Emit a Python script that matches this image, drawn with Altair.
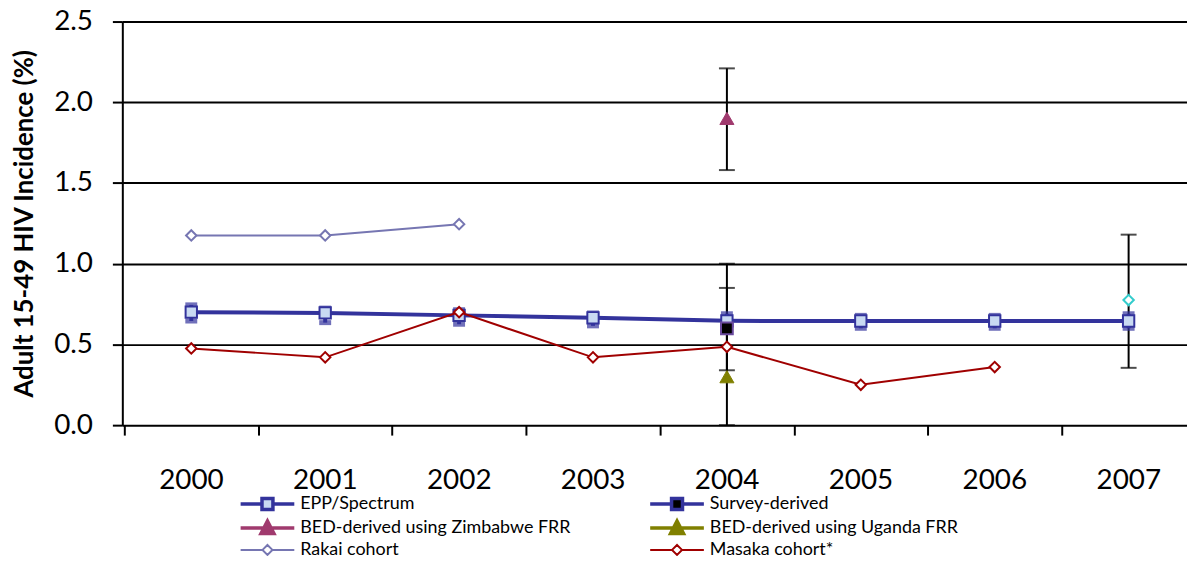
import altair as alt
import pandas as pd

FONT = "Lato"

# ---------------- data ----------------
years = [2000, 2001, 2002, 2003, 2004, 2005, 2006, 2007]
epp_vals = [0.70, 0.695, 0.68, 0.665, 0.646, 0.645, 0.645, 0.645]
epp_lo = [0.645, 0.635, 0.625, 0.615, 0.605, 0.600, 0.600, 0.600]
epp_hi = [0.745, 0.725, 0.715, 0.695, 0.690, 0.680, 0.680, 0.690]

survey_year = [2004]
survey_vals = [0.60]
survey_lo = [0.34]
survey_hi = [0.85]

bed_zim_year = [2004]
bed_zim_vals = [1.90]
bed_zim_lo = [1.58]
bed_zim_hi = [2.21]

bed_uga_year = [2004]
bed_uga_vals = [0.30]
bed_uga_lo = [0.0]
bed_uga_hi = [1.0]

rakai_years = [2000, 2001, 2002]
rakai_vals = [1.175, 1.175, 1.245]

masaka_years = [2000, 2001, 2002, 2003, 2004, 2005, 2006]
masaka_vals = [0.475, 0.42, 0.70, 0.42, 0.485, 0.25, 0.36]

other_year = [2007]
other_vals = [0.775]
other_lo = [0.355]
other_hi = [1.18]

series_names = [
    "EPP/Spectrum",
    "Survey-derived",
    "BED-derived using Zimbabwe FRR",
    "BED-derived using Uganda FRR",
    "Rakai cohort",
    "Masaka cohort*",
]

tick_positions = [1999.5, 2000.5, 2001.5, 2002.5, 2003.5, 2004.5, 2005.5, 2006.5]
y_ticks = [0.0, 0.5, 1.0, 1.5, 2.0, 2.5]

# colours
C_EPP = "#33339c"
C_EPP_FILL = "#c9daf2"
C_SURV_STROKE = "#6a4a9e"
C_ZIM = "#a03a6e"
C_UGA = "#808000"
C_RAKAI = "#7676b2"
C_MASAKA = "#a00000"
C_OTHER = "#33cccc"

# ---------------- frames ----------------
epp_df = pd.DataFrame({"year": years, "val": epp_vals, "lo": epp_lo, "hi": epp_hi})
rakai_df = pd.DataFrame({"year": rakai_years, "val": rakai_vals})
masaka_df = pd.DataFrame({"year": masaka_years, "val": masaka_vals})
survey_df = pd.DataFrame({"year": survey_year, "val": survey_vals})
zim_df = pd.DataFrame({"year": bed_zim_year, "val": bed_zim_vals})
uga_df = pd.DataFrame({"year": bed_uga_year, "val": bed_uga_vals})
other_df = pd.DataFrame({"year": other_year, "val": other_vals})
err_df = pd.DataFrame({
    "year": survey_year + bed_zim_year + bed_uga_year + other_year,
    "lo": survey_lo + bed_zim_lo + bed_uga_lo + other_lo,
    "hi": survey_hi + bed_zim_hi + bed_uga_hi + other_hi,
})
legend_df = pd.DataFrame({"series": series_names, "year": [2000] * 6, "val": [-1.0] * 6})

# ---------------- encodings ----------------
x_scale = alt.Scale(domain=[1999.485, 2007.436], nice=False, zero=False)
y_scale = alt.Scale(domain=[0, 2.5], nice=False)

x_axis = alt.Axis(
    values=tick_positions,
    labelExpr="format(datum.value + 0.5, 'd')",
    labelOffset=67,
    labelFont=FONT, labelFontSize=28, labelColor="black",
    labelPadding=32, labelFlush=False, labelOverlap=False, labelBound=False,
    tickSize=10, tickWidth=2, tickColor="black",
    domain=False, grid=False, title=None,
)
y_axis = alt.Axis(
    values=y_ticks, format=".1f",
    labelFont=FONT, labelFontSize=28, labelColor="black", labelPadding=20,
    tickSize=10, tickWidth=2, tickColor="black",
    domain=True, domainColor="black", domainWidth=2,
    grid=True, gridColor="black", gridWidth=2,
    title="Adult 15-49 HIV Incidence (%)",
    titleFont=FONT, titleFontSize=26, titleFontWeight="bold", titleColor="black",
    titlePadding=16,
)

X = alt.X("year:Q", scale=x_scale, axis=x_axis)
Y = alt.Y("val:Q", scale=y_scale, axis=y_axis)

# black error bars
err_rule = alt.Chart(err_df).mark_rule(color="black", strokeWidth=2).encode(
    x=X, y=alt.Y("lo:Q", scale=y_scale, axis=y_axis), y2="hi:Q"
)
err_cap_lo = alt.Chart(err_df).mark_tick(color="black", orient="horizontal", size=16, thickness=2).encode(
    x=X, y=alt.Y("lo:Q", scale=y_scale, axis=y_axis)
)
err_cap_hi = alt.Chart(err_df).mark_tick(color="black", orient="horizontal", size=16, thickness=2).encode(
    x=X, y=alt.Y("hi:Q", scale=y_scale, axis=y_axis)
)

# EPP / Spectrum
epp_line = alt.Chart(epp_df).mark_line(color=C_EPP, strokeWidth=4).encode(x=X, y=Y)
epp_bar = alt.Chart(epp_df).mark_rule(color=C_EPP, strokeWidth=4).encode(
    x=X, y=alt.Y("lo:Q", scale=y_scale, axis=y_axis), y2="hi:Q"
)
epp_cap_lo = alt.Chart(epp_df).mark_tick(color=C_EPP, orient="horizontal", size=12, thickness=5).encode(
    x=X, y=alt.Y("lo:Q", scale=y_scale, axis=y_axis)
)
epp_cap_hi = alt.Chart(epp_df).mark_tick(color=C_EPP, orient="horizontal", size=12, thickness=5).encode(
    x=X, y=alt.Y("hi:Q", scale=y_scale, axis=y_axis)
)
epp_pts = alt.Chart(epp_df).mark_point(
    shape="square", size=130, filled=True, fill=C_EPP_FILL, stroke=C_EPP, strokeWidth=2, opacity=1
).encode(x=X, y=Y)

# Rakai
rakai_line = alt.Chart(rakai_df).mark_line(color=C_RAKAI, strokeWidth=2).encode(x=X, y=Y)
rakai_pts = alt.Chart(rakai_df).mark_point(
    shape="diamond", size=110, filled=True, fill="white", stroke=C_RAKAI, strokeWidth=2, opacity=1
).encode(x=X, y=Y)

# Masaka
masaka_line = alt.Chart(masaka_df).mark_line(color=C_MASAKA, strokeWidth=2).encode(x=X, y=Y)
masaka_pts = alt.Chart(masaka_df).mark_point(
    shape="diamond", size=110, filled=True, fill="white", stroke=C_MASAKA, strokeWidth=2, opacity=1
).encode(x=X, y=Y)

# BED points
zim_pts = alt.Chart(zim_df).mark_point(
    shape="triangle-up", size=200, filled=True, fill=C_ZIM, stroke=C_ZIM, strokeWidth=1, opacity=1
).encode(x=X, y=Y)
uga_pts = alt.Chart(uga_df).mark_point(
    shape="triangle-up", size=200, filled=True, fill=C_UGA, stroke=C_UGA, strokeWidth=1, opacity=1
).encode(x=X, y=Y)

# Survey-derived
survey_pts = alt.Chart(survey_df).mark_point(
    shape="square", size=140, filled=True, fill="black", stroke=C_SURV_STROKE, strokeWidth=2, opacity=1
).encode(x=X, y=Y)

# other cohort point (2007)
other_pts = alt.Chart(other_df).mark_point(
    shape="diamond", size=110, filled=True, fill="white", stroke=C_OTHER, strokeWidth=2, opacity=1
).encode(x=X, y=Y)

# legend-only layer (points lie outside the y domain and are clipped)
sq = "M-1,0L3.3,0M5.5,0L9.8,0M3.3,-1.1L5.5,-1.1L5.5,1.1L3.3,1.1Z"
tri = "M-1,0L9.8,0M4.4,-1.4L5.7,1.1L3.1,1.1Z"
dia = "M-1,0L3.4,0M5.4,0L9.8,0M4.4,-1L5.4,0L4.4,1L3.4,0Z"

legend = alt.Legend(
    orient="none", legendX=115, legendY=476, columns=2, direction="horizontal", title=None,
    symbolSize=100, symbolStrokeWidth=3, symbolOpacity=1,
    labelFont=FONT, labelFontSize=18, labelColor="black", labelOffset=46,
    labelLimit=400, rowPadding=-2.5, columnPadding=72,
)
legend_layer = alt.Chart(legend_df).mark_point(filled=True, opacity=1, clip=True).encode(
    x=X, y=Y,
    shape=alt.Shape("series:N", scale=alt.Scale(domain=series_names, range=[sq, sq, tri, tri, dia, dia]), legend=legend),
    fill=alt.Fill("series:N", scale=alt.Scale(domain=series_names, range=[C_EPP_FILL, "black", C_ZIM, C_UGA, "white", "white"]), legend=legend),
    stroke=alt.Stroke("series:N", scale=alt.Scale(domain=series_names, range=[C_EPP, C_EPP, C_ZIM, C_UGA, C_RAKAI, C_MASAKA]), legend=legend),
    strokeWidth=alt.StrokeWidth("series:N", scale=alt.Scale(type="ordinal", domain=series_names, range=[3.5, 3.5, 3.5, 3.5, 2, 2]), legend=legend),
)

chart = alt.layer(
    err_rule, err_cap_lo, err_cap_hi,
    rakai_line, rakai_pts,
    epp_line, epp_bar, epp_cap_lo, epp_cap_hi, epp_pts,
    masaka_line, masaka_pts,
    zim_pts, uga_pts, survey_pts, other_pts,
    legend_layer,
).properties(
    width=1071, height=406,
    padding={"left": 115, "top": 12, "right": 0, "bottom": 130},
    autosize=alt.AutoSizeParams(type="none"),
).configure_view(stroke=None).configure(background="white")

chart.save("out.html", embed_options={"renderer": "svg", "actions": False})
